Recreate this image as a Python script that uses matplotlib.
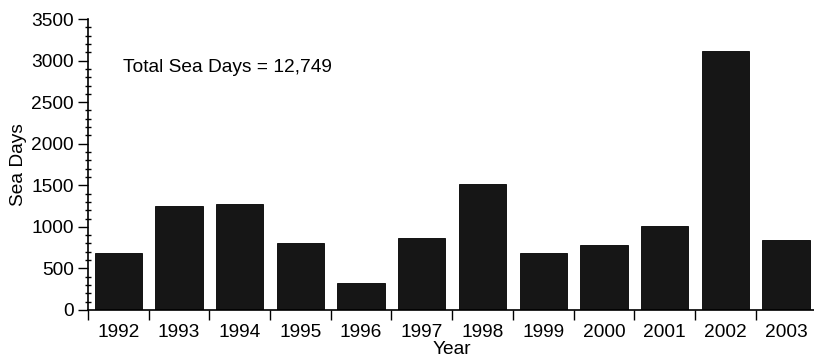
import numpy as np
import matplotlib
matplotlib.use("Agg")
import matplotlib.pyplot as plt
from matplotlib.ticker import FixedLocator, MultipleLocator

years = ['1992', '1993', '1994', '1995', '1996', '1997',
         '1998', '1999', '2000', '2001', '2002', '2003']
sea_days = [680, 1250, 1270, 800, 325, 870, 1510, 690, 780, 1010, 3120, 840]
total_text = 'Total Sea Days = 12,749'

plt.rcParams['font.family'] = ['Liberation Sans', 'DejaVu Sans']
fs = 13.8

fig = plt.figure(figsize=(8.14, 3.6), dpi=100)
ax = fig.add_axes([0.108, 0.139, 0.895, 0.808])

x = np.arange(len(years))
ax.bar(x, sea_days, width=0.78, color='#161616', edgecolor='#000000', linewidth=0.6)

ax.set_xlim(-0.5, len(years) - 0.5)
ax.set_ylim(0, 3500)

# y axis: labelled major ticks outside, small minor ticks every 100
ax.yaxis.set_major_locator(MultipleLocator(500))
ax.yaxis.set_minor_locator(MultipleLocator(100))
ax.tick_params(axis='y', which='major', direction='out', length=7, width=1,
               labelsize=fs, pad=3)
ax.tick_params(axis='y', which='minor', direction='inout', length=5, width=1)

# x axis: tick marks between the bars, year labels under each bar
ax.xaxis.set_major_locator(FixedLocator(np.arange(-0.5, len(years), 1.0)))
ax.xaxis.set_minor_locator(FixedLocator(x))
ax.xaxis.set_major_formatter(plt.NullFormatter())
ax.set_xticks(x, years, minor=True)
ax.tick_params(axis='x', which='major', direction='out', length=7, width=1)
ax.tick_params(axis='x', which='minor', length=0, labelsize=fs, pad=10)

for side in ['top', 'right']:
    ax.spines[side].set_visible(False)
for side in ['left', 'bottom']:
    ax.spines[side].set_linewidth(1.2)

ax.set_xlabel('Year', fontsize=fs, labelpad=0)
ax.set_ylabel('Sea Days', fontsize=fs, labelpad=3)

ax.text(0.048, 0.833, total_text, transform=ax.transAxes, fontsize=fs,
        va='center', ha='left')

fig.savefig('out.png', dpi=100)
